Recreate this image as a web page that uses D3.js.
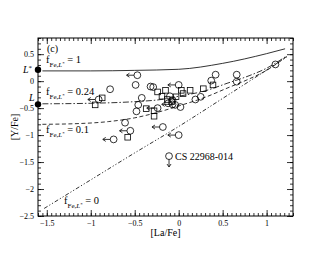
<!DOCTYPE html>
<html>
<head>
<meta charset="utf-8">
<script src="https://cdn.jsdelivr.net/npm/d3@7"></script>
<style>
  body { margin: 0; background: #fff; }
  svg text { font-family: "Liberation Serif", "Times New Roman", serif !important; }
</style>
</head>
<body>
<div class="holder"></div>
<script>
// model curves, [La/Fe] vs [Y/Fe]
var curveF1   = [[-1.55,0.19],[-1,0.19],[-0.5,0.2],[0,0.22],[0.5,0.33],[1,0.51],[1.21,0.6]];
var curveF024 = [[-1.55,-0.42],[-1,-0.41],[-0.5,-0.38],[-0.2,-0.34],[0,-0.28],[0.3,-0.18],[0.55,-0.04],[0.8,0.1],[1,0.24],[1.23,0.47]];
var curveF01  = [[-1.55,-0.8],[-1.2,-0.79],[-0.8,-0.75],[-0.5,-0.68],[-0.2,-0.56],[0,-0.46],[0.3,-0.3],[0.55,-0.13],[0.8,0.04],[1,0.2],[1.23,0.46]];
var curveF0   = [[-1.53,-2.36],[-1,-1.83],[-0.5,-1.33],[0,-0.84],[0.5,-0.32],[0.9,0.1],[1.23,0.45]];

// stars
var circles = [[-0.49,-0.07],[-0.78,-0.15],[-0.29,-0.11],[-0.42,-0.31],[-0.46,-0.44],[-0.48,-0.56],
  [-0.61,-0.77],[-0.32,-0.10],[-0.10,-0.28],[-0.07,-0.35],[-0.04,-0.44],[0.02,-0.48],[0.19,-0.34],
  [0.25,-0.29],[0.37,0.01],[0.42,0.12],[0.66,0.12],[0.66,-0.01],[1.10,0.31],[-0.12,-0.41]];
var laLimits = [[-0.47,0.11],[-0.91,-0.34],[-0.24,-0.50],[-0.74,-1.08],[-0.55,-0.92],
  [-0.18,-0.85],[0.00,-1.00],[0.00,-0.07],[-0.07,-0.43]];
var squares = [[-0.87,-0.31],[-0.95,-0.44],[-0.37,-0.51],[-0.28,-0.65],[-0.24,-0.20],[-0.15,-0.17],
  [-0.19,-0.28],[0.03,-0.17],[0.13,-0.17],[0.05,-0.23],[0.28,-0.14],[0.39,-0.07],[-0.13,-0.34],
  [-0.03,-0.29],[-0.58,-1.04],[-0.28,-0.55],[-0.08,-0.38]];
var yLimit = {name: "CS 22968-014", x: -0.11, y: -1.39};

var levels = [{name: "L", star: true, y: 0.21}, {name: "L", star: false, y: -0.43}];

var xMajor = [-1.5,-1,-0.5,0,0.5,1];
var yMajor = [0.5,0,-0.5,-1,-1.5,-2,-2.5];

var margin = {top: 38, right: 37, bottom: 39, left: 38};
var width = 330 - margin.left - margin.right;
var height = 255 - margin.top - margin.bottom;

var svg = d3.select(".holder").append("svg")
    .attr("width", 330).attr("height", 255);
var g = svg.append("g").attr("transform", `translate(${margin.left},${margin.top})`);

var x = d3.scaleLinear().domain([-1.6, 1.3]).range([0, width]);
var y = d3.scaleLinear().domain([-2.5, 0.8]).range([height, 0]);

var xMinor = d3.range(-1.6, 1.3001, 0.05).map(function(v){ return +v.toFixed(2); });
var yMinor = d3.range(-2.5, 0.8001, 0.1).map(function(v){ return +v.toFixed(2); });

// curves
var line = d3.line().x(function(d){ return x(d[0]); }).y(function(d){ return y(d[1]); })
    .curve(d3.curveMonotoneX);
var curves = [
  {data: curveF1, dash: null},
  {data: curveF024, dash: "6,2,1.5,2"},
  {data: curveF01, dash: "4,2.5"},
  {data: curveF0, dash: "4,2,1.2,2,1.2,2"}
];
g.selectAll(".curve").data(curves).enter().append("path")
    .attr("class", "curve")
    .attr("d", function(d){ return line(d.data); })
    .attr("fill", "none").attr("stroke", "#000").attr("stroke-width", 0.8)
    .attr("stroke-dasharray", function(d){ return d.dash; });

// points
var r = 3.4;
var pts = g.append("g").attr("fill", "none").attr("stroke", "#000").attr("stroke-width", 0.8);
pts.selectAll(".c").data(circles.concat(laLimits)).enter().append("circle")
    .attr("cx", function(d){ return x(d[0]); }).attr("cy", function(d){ return y(d[1]); }).attr("r", r);
pts.selectAll(".s").data(squares).enter().append("rect")
    .attr("x", function(d){ return x(d[0]) - 2.8; }).attr("y", function(d){ return y(d[1]) - 2.8; })
    .attr("width", 5.6).attr("height", 5.6);
pts.selectAll(".a").data(laLimits).enter().append("path")
    .attr("d", function(d){
      var cx = x(d[0]) - r, cy = y(d[1]);
      return `M${cx},${cy}H${cx-7}M${cx-4.5},${cy-2}L${cx-7.5},${cy}L${cx-4.5},${cy+2}`;
    });
pts.append("circle").attr("cx", x(yLimit.x)).attr("cy", y(yLimit.y)).attr("r", r);
pts.append("path").attr("d", function(){
  var cx = x(yLimit.x), cy = y(yLimit.y) + r;
  return `M${cx},${cy}V${cy+7}M${cx-2},${cy+4.5}L${cx},${cy+7.5}L${cx+2},${cy+4.5}`;
});
g.append("text").attr("x", x(yLimit.x) + 6).attr("y", y(yLimit.y) + 3.5)
    .style("font-size", "10px").text(yLimit.name);

// L and L* markers
g.selectAll(".lev").data(levels).enter().append("circle")
    .attr("cx", 0).attr("cy", function(d){ return y(d.y); }).attr("r", 3.2).attr("fill", "#000");
var levText = svg.selectAll(".levt").data(levels).enter().append("text")
    .attr("x", function(d){ return d.star ? 23 : 29; })
    .attr("y", function(d){ return margin.top + y(d.y) + (d.star ? 3 : -3); })
    .style("font-size", "10px").style("font-style", "italic");
levText.append("tspan").text(function(d){ return d.name; });
levText.filter(function(d){ return d.star; }).append("tspan")
    .attr("dy", -3).style("font-size", "7px").style("font-style", "normal").text("*");

// f labels
var fLabels = [
  {val: "1", x: 46, y: 63},
  {val: "0.24", x: 46, y: 95},
  {val: "0.1", x: 46, y: 133},
  {val: "0", x: 64, y: 204}
];
var fl = svg.selectAll(".fl").data(fLabels).enter().append("text")
    .attr("x", function(d){ return d.x; }).attr("y", function(d){ return d.y; })
    .style("font-size", "10.5px");
fl.append("tspan").text("f");
fl.append("tspan").attr("dy", 4).style("font-size", "7px").text("Fe,");
fl.append("tspan").style("font-size", "7px").style("font-style", "italic").text("L");
fl.append("tspan").attr("dy", -2).style("font-size", "5px").text("*");
fl.append("tspan").attr("dy", -2).text(function(d){ return " = " + d.val; });

svg.append("text").attr("x", 47).attr("y", 52).style("font-size", "10px").text("(c)");

// axes, ticks inward on all sides
function drawAxis(axisFn, transform, scale, major, minor, labels) {
  var minorAx = axisFn(scale).tickValues(minor).tickSize(-3).tickFormat("");
  var majorAx = axisFn(scale).tickValues(major).tickSize(-6).tickPadding(4)
      .tickFormat(labels ? d3.format("") : "");
  var a = g.append("g").attr("transform", transform).call(minorAx);
  a.select(".domain").remove();
  var b = g.append("g").attr("transform", transform).call(majorAx);
  b.select(".domain").remove();
  b.selectAll("text").style("font-size", "8px");
  g.selectAll("line").attr("stroke-width", 0.8);
  return b;
}
drawAxis(d3.axisBottom, `translate(0,${height})`, x, xMajor, xMinor, true);
drawAxis(d3.axisTop, "translate(0,0)", x, xMajor, xMinor, false);
drawAxis(d3.axisLeft, "translate(0,0)", y, yMajor, yMinor, true);
drawAxis(d3.axisRight, `translate(${width},0)`, y, yMajor, yMinor, false);

g.append("rect").attr("width", width).attr("height", height)
    .attr("fill", "none").attr("stroke", "#000").attr("stroke-width", 1);

svg.append("text").attr("x", margin.left + width / 2).attr("y", 236)
    .attr("text-anchor", "middle").style("font-size", "10px").text("[La/Fe]");
svg.append("text").attr("transform", `translate(18,${margin.top + height / 2}) rotate(-90)`)
    .attr("text-anchor", "middle").style("font-size", "10px").text("[Y/Fe]");
</script>
</body>
</html>
